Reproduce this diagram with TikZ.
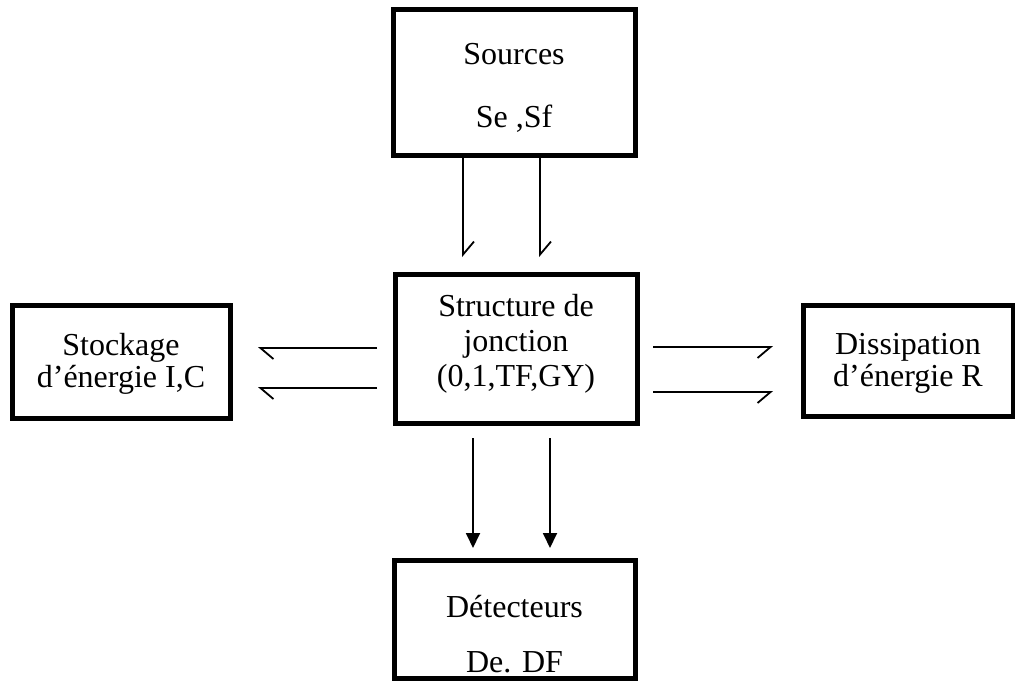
\documentclass[tikz,border=0pt]{standalone}
\usepackage{fontspec}
\setmainfont{Liberation Serif}
\usetikzlibrary{arrows.meta}
\tikzset{
  blockbox/.style={draw, line width=5pt, inner sep=0pt},
  txt/.style={align=center, inner sep=0pt, font=\fontsize{32}{35}\selectfont},
  halfL/.style={line width=1.8pt, -{Straight Barb[harpoon, length=13pt, width=22pt, line width=1.8pt]}},
  halfR/.style={line width=1.8pt, -{Straight Barb[harpoon, swap, length=13pt, width=22pt, line width=1.8pt]}},
  full/.style={line width=1.8pt, -{Triangle[length=15pt, width=14pt]}}
}
\begin{document}
\begin{tikzpicture}[x=1pt,y=-1pt]
\useasboundingbox (0,0) rectangle (1015,686);
% boxes
\node[blockbox, minimum width=242pt, minimum height=146pt] (src) at (514,82) {};
\node[blockbox, minimum width=242pt, minimum height=149pt] (junc) at (516,348.5) {};
\node[blockbox, minimum width=218pt, minimum height=113pt] (sto) at (121,361.5) {};
\node[blockbox, minimum width=210pt, minimum height=111pt] (dis) at (908,360.5) {};
\node[blockbox, minimum width=241pt, minimum height=118pt] (det) at (514.5,619) {};
% texts
\node[txt] (srcT) at (514,88) {Sources\\[28pt]Se ,Sf};
\node[txt] (juncT) at (516,344) {Structure de\\jonction\\(0,1,TF,GY)};
\node[txt] (stoT) at (121,363.5) {Stockage\\[-3pt]d’énergie I,C};
\node[txt] (disT) at (908,363.5) {Dissipation\\[-3pt]d’énergie R};
\node[txt] (detT) at (514.5,634) {Détecteurs\\[20pt]De. DF};
% connector end points
\coordinate (t1) at (463,257);
\coordinate (t2) at (540,257);
\coordinate (l1s) at (377,348); \coordinate (l1e) at (258,348);
\coordinate (l2s) at (377,388); \coordinate (l2e) at (258,388);
\coordinate (r1s) at (653,347); \coordinate (r1e) at (773,347);
\coordinate (r2s) at (653,392); \coordinate (r2e) at (773,392);
\coordinate (b1s) at (473,438); \coordinate (b1e) at (473,548);
\coordinate (b2s) at (550,438); \coordinate (b2e) at (550,548);
% connectors
\draw[halfL] (t1 |- src.south) -- (t1);
\draw[halfL] (t2 |- src.south) -- (t2);
\draw[halfL] (l1s) -- (l1e);
\draw[halfL] (l2s) -- (l2e);
\draw[halfR] (r1s) -- (r1e);
\draw[halfR] (r2s) -- (r2e);
\draw[full] (b1s) -- (b1e);
\draw[full] (b2s) -- (b2e);
\end{tikzpicture}
\end{document}
